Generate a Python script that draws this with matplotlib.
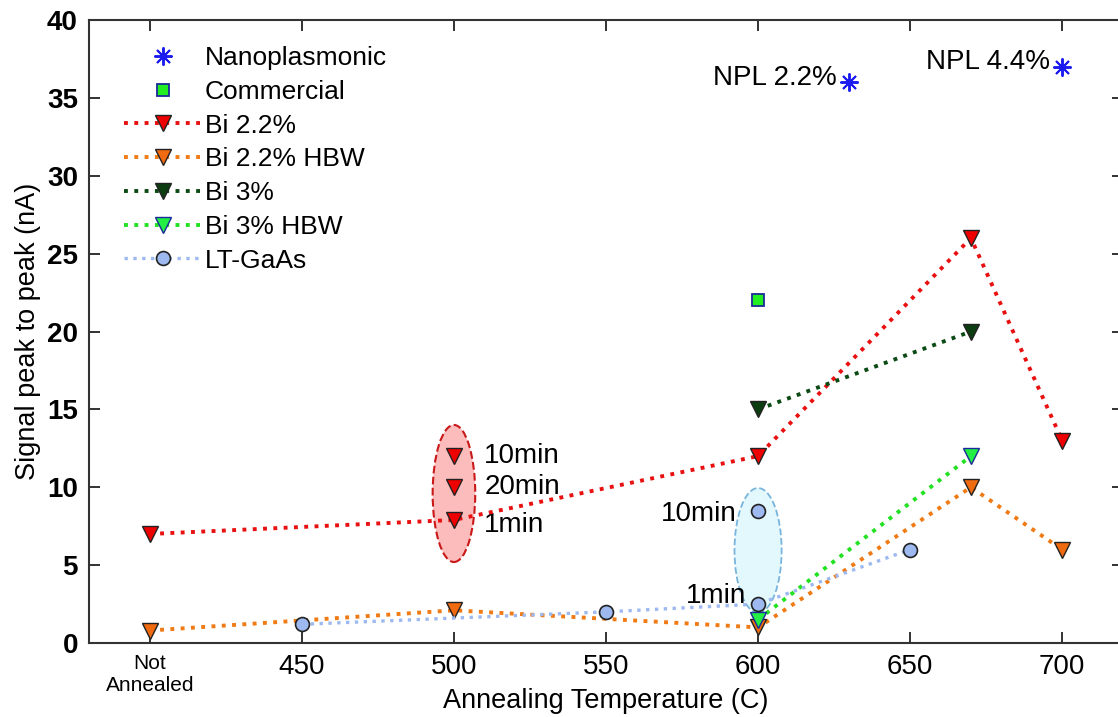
import numpy as np
import matplotlib
matplotlib.use("Agg")
from matplotlib import pyplot as plt
from matplotlib.patches import Ellipse
from matplotlib.legend_handler import HandlerLine2D

plt.rcParams['font.family'] = ['Liberation Sans', 'DejaVu Sans']

# x = 400 stands for "Not Annealed"
nano_x = [630, 700]
nano_y = [36, 37]
comm_x = [600]
comm_y = [22]
bi22_x = [400, 500, 600, 670, 700]
bi22_y = [7.0, 7.9, 12, 26, 13]
bi22_extra_x = [500, 500]
bi22_extra_y = [12, 10]
bi22hbw_x = [400, 500, 600, 670, 700]
bi22hbw_y = [0.8, 2.1, 1.0, 10, 6]
bi3_x = [600, 670]
bi3_y = [15, 20]
bi3hbw_x = [600, 670]
bi3hbw_y = [1.5, 12]
ltg_x = [450, 550, 600, 650]
ltg_y = [1.2, 2.0, 2.5, 6.0]
ltg_extra_x = [600]
ltg_extra_y = [8.5]

xtick_pos = [400, 450, 500, 550, 600, 650, 700]
xtick_lab = ['Not\nAnnealed', '450', '500', '550', '600', '650', '700']


class EndMarker(HandlerLine2D):
    # marker at the right end of the legend line, like the original
    def get_xdata(self, legend, xdescent, ydescent, width, height, fontsize):
        xdata, _ = super().get_xdata(legend, xdescent, ydescent, width, height, fontsize)
        return xdata, np.array([xdata[-1]])


fig = plt.figure(figsize=(11.18, 7.17), dpi=100)
ax = fig.add_axes([89/1118, 1 - 643/717, 1034/1118, 623/717])

red_ell = Ellipse((500, 9.6), 14, 8.8, facecolor='#fcbcbc', edgecolor='#c81818',
                  ls='--', lw=1.5, zorder=1)
blue_ell = Ellipse((600, 5.95), 15.5, 8.0, facecolor='#e2f8fd', edgecolor='#78b4dc',
                   ls='--', lw=1.3, zorder=1)
ax.add_patch(red_ell)
ax.add_patch(blue_ell)

ms = 11
h_nano, = ax.plot(nano_x, nano_y, ls='none', marker=(8, 2, 0), ms=13, mew=1.4,
                  color='#1c1cf0', label='Nanoplasmonic', zorder=5)
h_comm, = ax.plot(comm_x, comm_y, ls='none', marker='s', ms=8, mfc='#22ee22',
                  mec='#1a2a9a', mew=1.3, label='Commercial', zorder=5)
h_b22, = ax.plot(bi22_x, bi22_y, ls=':', lw=2.8, color='#e81010', marker='v', ms=ms,
                 mfc='#ee0000', mec='#222222', mew=1.0, label='Bi 2.2%', zorder=4)
ax.plot(bi22_extra_x, bi22_extra_y, ls='none', marker='v', ms=ms, mfc='#ee0000',
        mec='#222222', mew=1.0, zorder=4)
h_b22h, = ax.plot(bi22hbw_x, bi22hbw_y, ls=':', lw=2.8, color='#f07a14', marker='v', ms=ms,
                  mfc='#f06a10', mec='#222222', mew=1.0, label='Bi 2.2% HBW', zorder=3)
h_b3, = ax.plot(bi3_x, bi3_y, ls=':', lw=2.8, color='#0b4a14', marker='v', ms=ms,
                mfc='#0b3d10', mec='#222222', mew=1.0, label='Bi 3%', zorder=4)
h_b3h, = ax.plot(bi3hbw_x, bi3hbw_y, ls=':', lw=2.8, color='#22e022', marker='v', ms=ms,
                 mfc='#22ee44', mec='#1a2a9a', mew=1.0, label='Bi 3% HBW', zorder=4)
h_ltg, = ax.plot(ltg_x, ltg_y, ls=':', lw=2.4, color='#9db9f0', marker='o', ms=10,
                 mfc='#9db9f0', mec='#222222', mew=1.2, label='LT-GaAs', zorder=5)
ax.plot(ltg_extra_x, ltg_extra_y, ls='none', marker='o', ms=10, mfc='#9db9f0',
        mec='#222222', mew=1.2, zorder=5)

fs = 20
ax.text(510, 12, '10min', fontsize=fs, va='center', ha='left')
ax.text(510, 10, '20min', fontsize=fs, va='center', ha='left')
ax.text(510, 7.6, '1min', fontsize=fs, va='center', ha='left')
ax.text(593, 8.3, '10min', fontsize=fs, va='center', ha='right')
ax.text(596, 3.0, '1min', fontsize=fs, va='center', ha='right')
ax.text(626, 36.3, 'NPL 2.2%', fontsize=fs, va='center', ha='right')
ax.text(696, 37.3, 'NPL 4.4%', fontsize=fs, va='center', ha='right')

ax.set_xlim(380, 720)
ax.set_ylim(0, 40)
ax.set_xticks(xtick_pos)
ax.set_xticklabels(xtick_lab)
ax.set_yticks(np.arange(0, 41, 5))
ax.tick_params(direction='in', length=8, width=1.3, top=True, right=True,
               labelsize=20, pad=8, colors='#222222', labelcolor='black')
for t in ax.get_xticklabels():
    if 'Not' in t.get_text():
        t.set_fontsize(15)
for t in ax.get_yticklabels():
    t.set_fontweight('bold')
for s in ax.spines.values():
    s.set_linewidth(1.5)
    s.set_color('#333333')

ax.set_xlabel('Annealing Temperature (C)', fontsize=19.5)
ax.xaxis.set_label_coords(0.5, -0.072)
ax.set_ylabel('Signal peak to peak (nA)', fontsize=19.5, labelpad=4)

ax.legend(handles=[h_nano, h_comm, h_b22, h_b22h, h_b3, h_b3h, h_ltg],
          handler_map={matplotlib.lines.Line2D: EndMarker()},
          loc='upper left', bbox_to_anchor=(0.024, 0.975), frameon=False,
          fontsize=19, handlelength=2.9, handletextpad=0.15, labelspacing=0.37,
          borderaxespad=0)

fig.savefig('out.png', dpi=100)
